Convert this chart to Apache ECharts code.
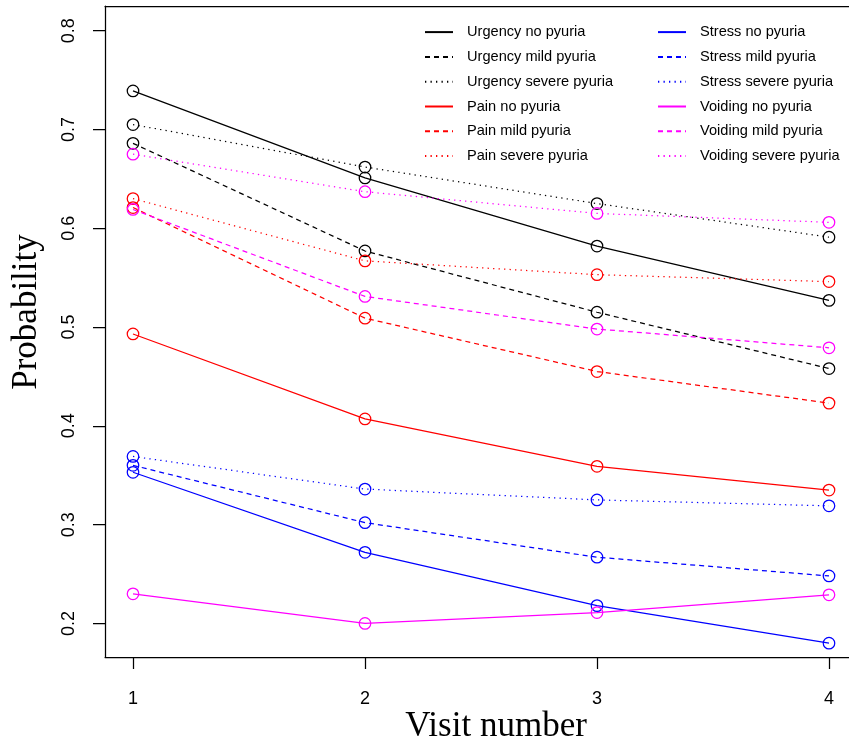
<!DOCTYPE html>
<html>
<head>
<meta charset="utf-8">
<script src="https://cdn.jsdelivr.net/npm/echarts@6/dist/echarts.min.js"></script>
<style>
html,body{margin:0;padding:0;background:#fff;}
#chart{width:849px;height:740px;}
</style>
</head>
<body>
<div id="chart"></div>
<script>
var visits = [1, 2, 3, 4];
var xTicks = [1, 2, 3, 4];
var yTicks = [0.2, 0.3, 0.4, 0.5, 0.6, 0.7, 0.8];

var urgencyNo     = [0.739, 0.651, 0.582, 0.527];
var urgencyMild   = [0.686, 0.577, 0.515, 0.458];
var urgencySevere = [0.705, 0.662, 0.625, 0.591];
var painNo        = [0.493, 0.407, 0.359, 0.335];
var painMild      = [0.621, 0.509, 0.455, 0.423];
var painSevere    = [0.630, 0.567, 0.553, 0.546];
var stressNo      = [0.353, 0.272, 0.218, 0.180];
var stressMild    = [0.360, 0.302, 0.267, 0.248];
var stressSevere  = [0.369, 0.336, 0.325, 0.319];
var voidingNo     = [0.230, 0.200, 0.211, 0.229];
var voidingMild   = [0.619, 0.531, 0.498, 0.479];
var voidingSevere = [0.675, 0.637, 0.615, 0.606];

var seriesNames = [
  'Urgency no pyuria', 'Urgency mild pyuria', 'Urgency severe pyuria',
  'Pain no pyuria', 'Pain mild pyuria', 'Pain severe pyuria',
  'Stress no pyuria', 'Stress mild pyuria', 'Stress severe pyuria',
  'Voiding no pyuria', 'Voiding mild pyuria', 'Voiding severe pyuria'
];
var seriesValues = [
  urgencyNo, urgencyMild, urgencySevere,
  painNo, painMild, painSevere,
  stressNo, stressMild, stressSevere,
  voidingNo, voidingMild, voidingSevere
];
var groupColors = ['#000000', '#FF0000', '#0000FF', '#FF00FF'];
var lineTypes = ['solid', [5, 4], [1.3, 4.2]];

var series = seriesNames.map(function (name, i) {
  var col = groupColors[Math.floor(i / 3)];
  var lt = lineTypes[i % 3];
  return {
    name: name,
    type: 'line',
    xAxisIndex: 0,
    data: visits.map(function (v, j) { return [v, seriesValues[i][j]]; }),
    symbol: 'circle',
    symbolSize: 11.5,
    itemStyle: { color: 'rgba(0,0,0,0)', borderColor: col, borderWidth: 1.25 },
    lineStyle: { color: col, width: 1.25, type: lt },
    emphasis: { disabled: true },
    silent: true,
    z: 2
  };
});

var legendCommon = {
  orient: 'vertical',
  padding: 0,
  itemWidth: 28,
  itemHeight: 14,
  itemGap: 9.8,
  icon: 'inherit',
  itemStyle: { opacity: 0 },
  selectedMode: false,
  textStyle: {
    fontFamily: 'Liberation Sans, Arial, sans-serif',
    fontSize: 14.6,
    color: '#000',
    lineHeight: 14,
    padding: [0, 0, 0, 9]
  }
};

var axisFont = 'Liberation Sans, Arial, sans-serif';

var option = {
  animation: false,
  backgroundColor: '#fff',
  grid: {
    left: 105, top: 6, right: 0, bottom: 83,
    show: false,
    containLabel: false
  },
  legend: [
    Object.assign({}, legendCommon, { left: 424, top: 24.6, data: seriesNames.slice(0, 6) }),
    Object.assign({}, legendCommon, { left: 657, top: 24.6, data: seriesNames.slice(6, 12) })
  ],
  xAxis: [{
    type: 'value',
    position: 'bottom',
    min: 0.8793, max: 4.0862,
    axisLine: { show: true, onZero: false, lineStyle: { color: '#000', width: 1.25 } },
    axisTick: { show: true, length: 12, customValues: xTicks, lineStyle: { color: '#000', width: 1.25 } },
    axisLabel: {
      customValues: xTicks, margin: 33,
      fontFamily: axisFont, fontSize: 18, color: '#000',
      formatter: function (v) { return String(v); }
    },
    splitLine: { show: false }
  }, {
    type: 'value',
    position: 'top',
    min: 0.8793, max: 4.0862,
    axisLine: { show: true, onZero: false, lineStyle: { color: '#000', width: 1.25 } },
    axisTick: { show: false },
    axisLabel: { show: false },
    splitLine: { show: false }
  }],
  yAxis: {
    type: 'value',
    min: 0.166, max: 0.825,
    axisLine: { show: true, onZero: false, lineStyle: { color: '#000', width: 1.25 } },
    axisTick: { show: true, length: 12, customValues: yTicks, lineStyle: { color: '#000', width: 1.25 } },
    axisLabel: {
      customValues: yTicks, margin: 27, rotate: 90,
      fontFamily: axisFont, fontSize: 18, color: '#000',
      formatter: function (v) { return v.toFixed(1); }
    },
    splitLine: { show: false }
  },
  graphic: [
    {
      type: 'text', x: 496, y: 727,
      style: { text: 'Visit number', fontFamily: 'Liberation Serif, Times New Roman, serif', fontSize: 35, fill: '#000', align: 'center', verticalAlign: 'middle' }
    },
    {
      type: 'text', x: 27, y: 312, rotation: Math.PI / 2,
      style: { text: 'Probability', fontFamily: 'Liberation Serif, Times New Roman, serif', fontSize: 35, fill: '#000', align: 'center', verticalAlign: 'middle' }
    }
  ],
  series: series
};

var chart = echarts.init(document.getElementById('chart'), null, { renderer: 'canvas' });
chart.setOption(option);
</script>
</body>
</html>
